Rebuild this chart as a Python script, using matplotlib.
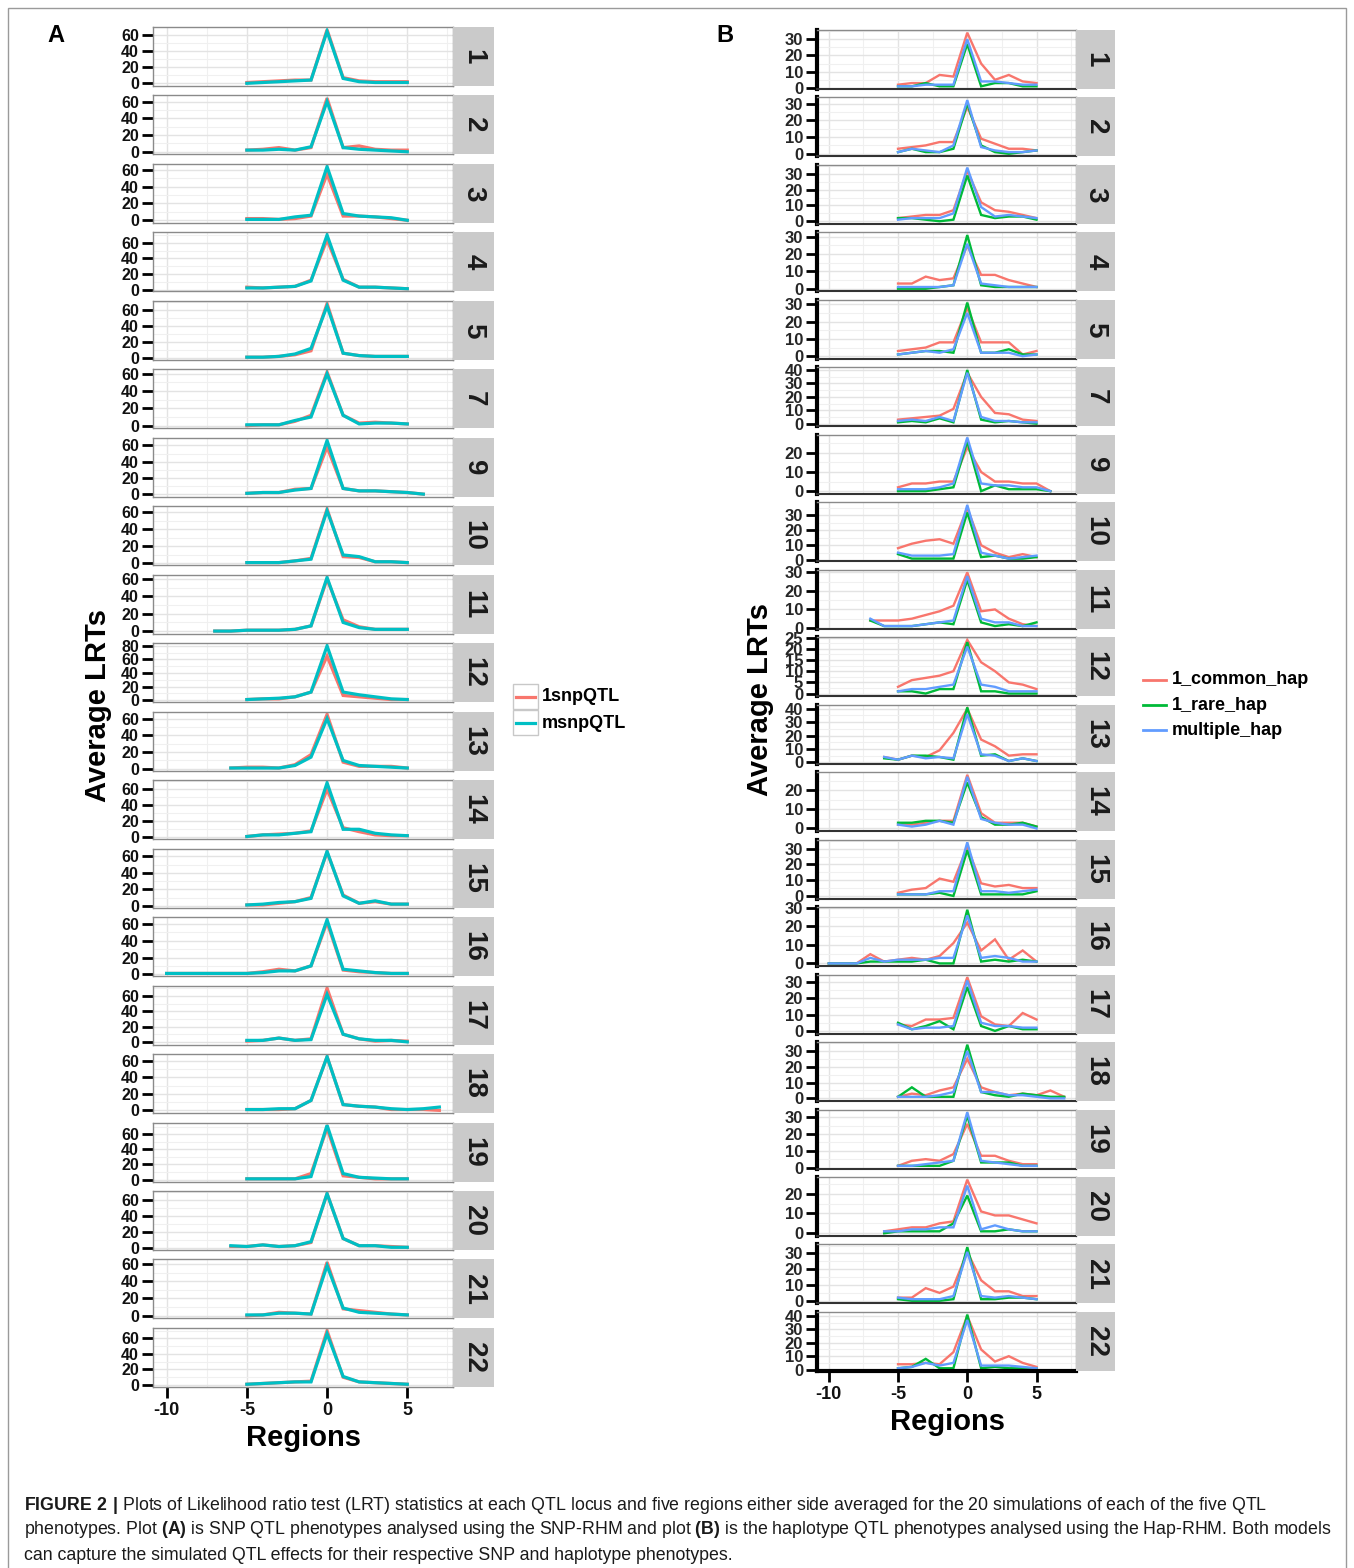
import matplotlib
matplotlib.use("Agg")
import matplotlib.pyplot as plt
from matplotlib.lines import Line2D
from matplotlib.patches import Rectangle
from matplotlib.ticker import MultipleLocator

plt.rcParams["font.family"] = ["Liberation Sans", "DejaVu Sans"]
plt.rcParams["mathtext.fontset"] = "custom"
plt.rcParams["mathtext.rm"] = "Liberation Sans"
plt.rcParams["mathtext.bf"] = "Liberation Sans:bold"
plt.rcParams["axes.unicode_minus"] = False

W, H = 1354, 1568

panels = [1, 2, 3, 4, 5, 7, 9, 10, 11, 12, 13, 14, 15, 16, 17, 18, 19, 20, 21, 22]

# --- plot A: SNP QTL phenotypes (first region of each panel, then one value per region)
a_start = {1: -5, 2: -5, 3: -5, 4: -5, 5: -5, 7: -5, 9: -5, 10: -5, 11: -7, 12: -5,
           13: -6, 14: -5, 15: -5, 16: -10, 17: -5, 18: -5, 19: -5, 20: -6, 21: -5, 22: -5}
a_1snp = {
    1: [1, 2, 3, 4, 4, 66, 7, 3, 2, 2, 2],
    2: [2, 3, 5, 2, 5, 64, 5, 7, 3, 2, 2],
    3: [2, 2, 1, 2, 5, 55, 5, 5, 4, 2, 0],
    4: [3, 2, 3, 4, 12, 64, 13, 3, 3, 2, 1],
    5: [1, 1, 2, 4, 9, 68, 6, 3, 2, 2, 2],
    7: [0, 1, 1, 5, 12, 62, 12, 3, 4, 3, 2],
    9: [1, 2, 2, 6, 7, 58, 7, 4, 4, 3, 2, 0],
    10: [1, 1, 1, 3, 6, 64, 8, 7, 2, 2, 1],
    11: [0, 0, 1, 1, 1, 2, 6, 60, 13, 5, 2, 2, 2],
    12: [1, 2, 2, 5, 12, 65, 7, 5, 3, 1, 1],
    13: [1, 2, 2, 1, 5, 17, 65, 8, 3, 3, 3, 1],
    14: [1, 3, 4, 5, 8, 60, 12, 7, 3, 2, 2],
    15: [1, 1, 3, 5, 10, 65, 13, 3, 5, 2, 2],
    16: [1, 1, 1, 1, 1, 1, 3, 6, 4, 10, 62, 5, 3, 2, 1, 1],
    17: [1, 2, 5, 2, 4, 70, 10, 4, 1, 2, 1],
    18: [1, 1, 1, 2, 12, 65, 7, 5, 4, 1, 1, 1, 0],
    19: [1, 1, 1, 1, 8, 68, 5, 3, 1, 1, 1],
    20: [2, 2, 4, 2, 3, 7, 68, 12, 3, 3, 2, 1],
    21: [0, 1, 4, 3, 2, 62, 8, 6, 4, 2, 1],
    22: [1, 2, 3, 4, 5, 70, 10, 4, 3, 2, 1],
}
a_msnp = {
    1: [0, 1, 2, 3, 4, 64, 6, 2, 1, 1, 1],
    2: [2, 2, 3, 2, 6, 60, 5, 3, 2, 1, 0],
    3: [1, 1, 1, 4, 6, 64, 8, 5, 4, 3, 0],
    4: [2, 2, 3, 4, 11, 70, 12, 3, 3, 2, 1],
    5: [1, 1, 2, 5, 12, 65, 6, 3, 2, 2, 2],
    7: [1, 1, 1, 6, 10, 60, 12, 2, 3, 3, 2],
    9: [1, 2, 2, 5, 7, 66, 7, 4, 4, 3, 2, 0],
    10: [1, 1, 1, 3, 5, 62, 10, 8, 2, 2, 1],
    11: [0, 0, 1, 1, 1, 2, 6, 62, 10, 4, 2, 2, 2],
    12: [1, 2, 3, 5, 12, 80, 12, 8, 5, 2, 1],
    13: [1, 1, 1, 1, 4, 14, 60, 10, 4, 3, 2, 1],
    14: [1, 3, 3, 5, 7, 68, 10, 10, 5, 3, 2],
    15: [1, 2, 4, 5, 9, 66, 12, 3, 6, 2, 2],
    16: [1, 1, 1, 1, 1, 1, 2, 4, 4, 10, 65, 6, 4, 2, 1, 1],
    17: [2, 2, 5, 2, 3, 62, 10, 4, 2, 2, 0],
    18: [1, 1, 2, 2, 12, 65, 7, 5, 4, 2, 1, 2, 4],
    19: [1, 1, 1, 1, 4, 72, 8, 3, 2, 1, 1],
    20: [3, 2, 4, 2, 3, 8, 68, 12, 3, 3, 1, 1],
    21: [1, 1, 3, 3, 2, 58, 9, 4, 3, 2, 1],
    22: [1, 2, 3, 4, 4, 66, 11, 4, 3, 2, 1],
}

# --- plot B: haplotype QTL phenotypes
b_start = {1: -5, 2: -5, 3: -5, 4: -5, 5: -5, 7: -5, 9: -5, 10: -5, 11: -7, 12: -5,
           13: -6, 14: -5, 15: -5, 16: -10, 17: -5, 18: -5, 19: -5, 20: -6, 21: -5, 22: -5}
b_common = {
    1: [2, 3, 3, 8, 7, 34, 15, 5, 8, 4, 3],
    2: [3, 4, 5, 7, 7, 28, 9, 6, 3, 3, 2],
    3: [2, 3, 4, 4, 7, 32, 12, 7, 6, 4, 2],
    4: [3, 3, 7, 5, 6, 25, 8, 8, 5, 3, 1],
    5: [3, 4, 5, 8, 8, 28, 8, 8, 8, 1, 3],
    7: [3, 4, 5, 6, 11, 38, 20, 8, 7, 3, 2],
    9: [2, 4, 4, 5, 5, 23, 10, 5, 5, 4, 4, 0],
    10: [8, 11, 13, 14, 11, 35, 10, 5, 2, 4, 2],
    11: [4, 4, 4, 5, 7, 9, 12, 30, 9, 10, 5, 2, 1],
    12: [3, 6, 7, 8, 10, 24, 14, 10, 5, 4, 2],
    13: [4, 2, 5, 4, 9, 22, 40, 17, 12, 5, 6, 6],
    14: [2, 2, 3, 4, 4, 28, 8, 3, 3, 3, 1],
    15: [2, 4, 5, 11, 9, 31, 8, 6, 7, 5, 5],
    16: [0, 0, 0, 5, 1, 2, 3, 2, 4, 11, 22, 7, 13, 2, 7, 1],
    17: [4, 3, 7, 7, 8, 33, 9, 4, 3, 11, 7],
    18: [1, 3, 2, 5, 7, 25, 7, 4, 2, 3, 2, 5, 1],
    19: [1, 4, 5, 4, 8, 26, 7, 7, 4, 2, 2],
    20: [1, 2, 3, 3, 5, 6, 27, 11, 9, 9, 7, 5],
    21: [2, 2, 8, 5, 9, 31, 13, 6, 6, 3, 3],
    22: [4, 4, 5, 4, 13, 40, 15, 6, 10, 5, 2],
}
b_rare = {
    1: [1, 1, 3, 1, 1, 27, 1, 3, 3, 1, 1],
    2: [1, 3, 1, 1, 3, 30, 5, 1, 0, 1, 2],
    3: [2, 2, 1, 0, 1, 29, 4, 2, 3, 3, 1],
    4: [0, 0, 0, 1, 2, 31, 2, 1, 1, 1, 1],
    5: [1, 2, 3, 3, 2, 31, 2, 2, 4, 1, 1],
    7: [1, 2, 1, 4, 1, 40, 3, 1, 2, 1, 0],
    9: [0, 0, 0, 1, 2, 26, 0, 3, 1, 1, 1, 0],
    10: [4, 1, 1, 1, 1, 32, 2, 3, 1, 1, 2],
    11: [4, 1, 1, 1, 2, 3, 2, 26, 3, 1, 2, 1, 3],
    12: [1, 1, 0, 2, 2, 23, 1, 1, 0, 0, 0],
    13: [3, 2, 5, 5, 4, 2, 41, 5, 6, 1, 3, 1],
    14: [3, 3, 4, 4, 3, 24, 6, 2, 2, 3, 1],
    15: [1, 1, 1, 2, 0, 29, 1, 1, 1, 1, 3],
    16: [0, 0, 0, 1, 1, 1, 1, 2, 0, 0, 29, 1, 2, 1, 2, 1],
    17: [5, 1, 3, 6, 1, 27, 3, 0, 3, 1, 1],
    18: [1, 7, 1, 1, 1, 34, 4, 2, 1, 3, 2, 1, 1],
    19: [1, 1, 1, 1, 4, 31, 3, 3, 3, 1, 1],
    20: [0, 1, 1, 1, 1, 5, 19, 1, 1, 2, 1, 1],
    21: [1, 0, 0, 0, 1, 34, 1, 1, 2, 2, 1],
    22: [1, 2, 8, 1, 1, 41, 1, 2, 1, 1, 1],
}
b_multi = {
    1: [1, 1, 2, 2, 2, 30, 4, 4, 3, 2, 2],
    2: [1, 3, 2, 1, 5, 32, 4, 2, 1, 1, 2],
    3: [1, 2, 2, 2, 5, 34, 9, 3, 4, 3, 2],
    4: [1, 1, 1, 1, 2, 26, 3, 2, 1, 1, 1],
    5: [1, 2, 3, 2, 4, 25, 2, 2, 2, 0, 1],
    7: [2, 3, 2, 5, 2, 38, 5, 2, 2, 1, 1],
    9: [1, 1, 1, 2, 4, 28, 4, 3, 3, 2, 2, 0],
    10: [5, 3, 3, 3, 4, 37, 5, 3, 1, 2, 3],
    11: [5, 1, 1, 1, 2, 3, 4, 28, 5, 3, 3, 1, 1],
    12: [1, 2, 2, 3, 4, 21, 4, 3, 1, 1, 1],
    13: [4, 2, 5, 3, 4, 3, 36, 6, 5, 1, 3, 1],
    14: [2, 1, 2, 4, 2, 27, 5, 3, 2, 2, 0],
    15: [1, 1, 1, 3, 3, 34, 3, 3, 2, 3, 4],
    16: [0, 0, 0, 3, 1, 2, 2, 2, 3, 3, 26, 3, 4, 3, 1, 1],
    17: [4, 1, 2, 2, 3, 31, 5, 3, 3, 2, 2],
    18: [1, 1, 1, 2, 4, 30, 4, 4, 2, 2, 1, 0, 0],
    19: [1, 1, 2, 3, 4, 33, 4, 3, 2, 1, 1],
    20: [1, 1, 2, 2, 3, 3, 24, 2, 4, 2, 1, 1],
    21: [2, 1, 1, 1, 3, 31, 3, 2, 3, 2, 1],
    22: [1, 2, 5, 3, 5, 37, 3, 3, 3, 2, 1],
}

x_ticks = [-10, -5, 0, 5]
x_lim = (-10.85, 7.85)

RED = "#F8766D"
TEAL = "#00BFC4"
GREEN = "#00BA38"
BLUE = "#619CFF"

fig = plt.figure(figsize=(W / 100, H / 100), dpi=100)


def box(x0, y0, x1, y1):
    # pixel box (top-left origin) -> figure fraction rect
    return [x0 / W, 1 - y1 / H, (x1 - x0) / W, (y1 - y0) / H]


def draw_column(left, right, strip_right, top0, step, height, series, starts,
                colors, lw, tick_size, heavy):
    axes = []
    for i, p in enumerate(panels):
        top = top0 + i * step
        ax = fig.add_axes(box(left, top, right, top + height))
        for data, c in zip(series, colors):
            vals = data[p]
            xs = list(range(starts[p], starts[p] + len(vals)))
            ax.plot(xs, vals, color=c, lw=lw, solid_joinstyle="miter")
        ymax = max(max(d[p]) for d in series)
        if heavy:
            ystep = 5 if ymax < 25 else 10
        else:
            ystep = 20
        ax.yaxis.set_major_locator(MultipleLocator(ystep))
        ax.yaxis.set_minor_locator(MultipleLocator(ystep / 2))
        ax.set_xticks(x_ticks)
        ax.xaxis.set_minor_locator(MultipleLocator(2.5))
        ax.set_xlim(*x_lim)
        ax.margins(y=0.05)
        ax.set_ylim(bottom=min(0, ax.get_ylim()[0]))
        ax.grid(which="major", color="#E3E3E3", lw=1.0)
        ax.grid(which="minor", color="#F0F0F0", lw=0.8)
        ax.set_axisbelow(True)
        ax.tick_params(axis="y", which="major", length=8, width=2, colors="black",
                       labelsize=tick_size, pad=2)
        ax.tick_params(which="minor", length=0)
        for lab in ax.get_yticklabels():
            lab.set_fontweight("bold")
            lab.set_color("#111111" if not heavy else "#262626")
        ax.set_yticks([t for t in ax.get_yticks() if 0 <= t <= ax.get_ylim()[1]])
        ax.tick_params(axis="x", length=0, labelbottom=False)
        for s in ax.spines.values():
            s.set_color("#8A8A8A")
            s.set_linewidth(1.0)
        if heavy:
            ax.spines["left"].set_color("black")
            ax.spines["left"].set_linewidth(3)
            ax.spines["bottom"].set_color("#333333")
            ax.spines["bottom"].set_linewidth(1.5)
        # facet strip
        sax = fig.add_axes(box(right, top, strip_right, top + height))
        sax.set_facecolor("#CACACA")
        sax.set_xticks([])
        sax.set_yticks([])
        for s in sax.spines.values():
            s.set_visible(False)
        sax.text(0.5, 0.5, str(p), rotation=270, ha="center", va="center",
                 fontsize=20, fontweight="bold", color="#1A1A1A",
                 transform=sax.transAxes)
        axes.append(ax)
    last = axes[-1]
    last.tick_params(axis="x", length=8, width=2, colors="black", labelbottom=True,
                     labelsize=13, pad=3)
    for lab in last.get_xticklabels():
        lab.set_fontweight("bold")
        lab.set_color("#111111")
    if heavy:
        last.spines["bottom"].set_color("black")
        last.spines["bottom"].set_linewidth(3)
    return axes


axA = draw_column(153, 453, 494, 27, 68.47, 59, [a_1snp, a_msnp], a_start,
                  [RED, TEAL], 2.3, 11.5, False)
axB = draw_column(817, 1076, 1115, 30, 67.47, 59, [b_common, b_rare, b_multi], b_start,
                  [RED, GREEN, BLUE], 1.7, 12, True)

# axis titles
fig.text(98 / W, 1 - 706 / H, "Average LRTs", rotation=90, ha="center", va="center",
         fontsize=21, fontweight="bold")
fig.text(303 / W, 1 - 1438 / H, "Regions", ha="center", va="center",
         fontsize=21, fontweight="bold")
fig.text(760 / W, 1 - 700 / H, "Average LRTs", rotation=90, ha="center", va="center",
         fontsize=21, fontweight="bold")
fig.text(947 / W, 1 - 1422 / H, "Regions", ha="center", va="center",
         fontsize=21, fontweight="bold")

# panel letters
fig.text(56 / W, 1 - 36 / H, "A", ha="center", va="center", fontsize=17, fontweight="bold")
fig.text(725 / W, 1 - 36 / H, "B", ha="center", va="center", fontsize=17, fontweight="bold")

# legend A (keys in grey boxes)
for j, (lab, c) in enumerate([("1snpQTL", RED), ("msnpQTL", TEAL)]):
    yc = 697 + j * 26
    fig.add_artist(Rectangle((513 / W, 1 - (yc + 12.5) / H), 25 / W, 25 / H,
                             transform=fig.transFigure, facecolor="white",
                             edgecolor="#C8C8C8", lw=1))
    fig.add_artist(Line2D([516 / W, 535 / W], [1 - yc / H, 1 - yc / H],
                          transform=fig.transFigure, color=c, lw=2.3))
    fig.text(542 / W, 1 - yc / H, lab, ha="left", va="center", fontsize=13,
             fontweight="bold")

# legend B
for j, (lab, c) in enumerate([("1_common_hap", RED), ("1_rare_hap", GREEN),
                              ("multiple_hap", BLUE)]):
    yc = 680 + j * 25
    fig.add_artist(Line2D([1143 / W, 1166 / W], [1 - yc / H, 1 - yc / H],
                          transform=fig.transFigure, color=c, lw=2))
    fig.text(1172 / W, 1 - yc / H, lab, ha="left", va="center", fontsize=13,
             fontweight="bold")

# outer frame
fig.add_artist(Rectangle((8 / W, -0.05), (1346 - 8) / W, 1 - 8 / H + 0.05,
                         transform=fig.transFigure, fill=False, edgecolor="#9A9A9A",
                         lw=1))

# caption
cap = [
    r"$\bf{FIGURE\ 2\ |}$ Plots of Likelihood ratio test (LRT) statistics at each QTL locus "
    "and five regions either side averaged for the 20 simulations of each of the five QTL",
    r"phenotypes. Plot $\bf{(A)}$ is SNP QTL phenotypes analysed using the SNP-RHM and plot "
    r"$\bf{(B)}$ is the haplotype QTL phenotypes analysed using the Hap-RHM. Both models",
    "can capture the simulated QTL effects for their respective SNP and haplotype phenotypes.",
]
for k, line in enumerate(cap):
    fig.text(24 / W, 1 - (1505 + k * 25) / H, line, ha="left", va="center",
             fontsize=12.8, color="#1A1A1A")

fig.savefig("out.png", dpi=100)
